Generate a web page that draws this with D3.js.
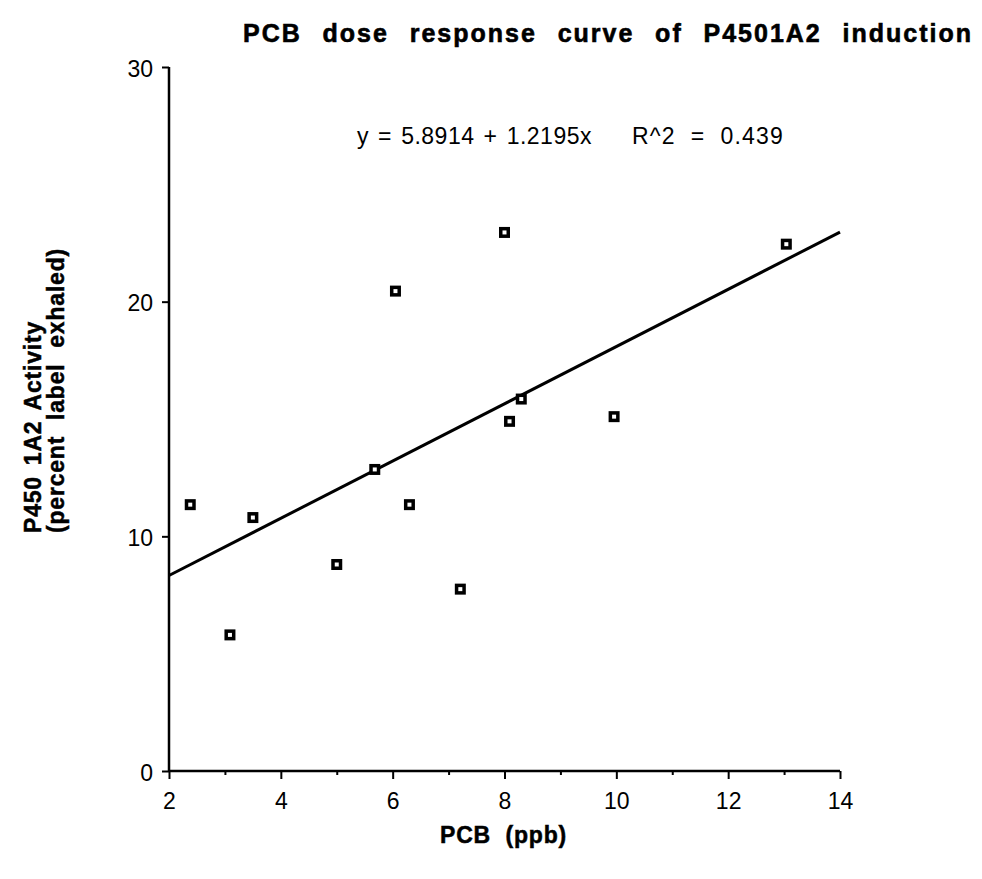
<!DOCTYPE html>
<html>
<head>
<meta charset="utf-8">
<script src="https://cdn.jsdelivr.net/npm/d3@7"></script>
<style>
  html, body { margin: 0; padding: 0; background: #fff; }
  svg { display: block; }
  text { font-family: "Liberation Sans", Arial, Helvetica, sans-serif; fill: #000; }
</style>
</head>
<body>
<svg id="chart" width="982" height="879"></svg>
<script>
// ---- data ----
const pcbValues = [2.38, 3.09, 3.5, 5.0, 5.68, 6.05, 6.3, 7.21, 8.0, 8.09, 8.3, 9.96, 13.04];
const activityValues = [11.35, 5.8, 10.8, 8.8, 12.85, 20.45, 11.35, 7.75, 22.95, 14.9, 15.85, 15.1, 22.45];
const xTicks = [2, 4, 6, 8, 10, 12, 14];
const xMinorTicks = [3, 5, 7, 9, 11, 13];
const yTicks = [0, 10, 20, 30];
const fitIntercept = [5.8914];
const fitSlope = [1.2195];
const titleText = "PCB dose response curve of P4501A2 induction";
const equationParts = ["y = 5.8914 + 1.2195x", "R^2 = 0.439"];
const yLabelLines = ["P450 1A2 Activity", "(percent label exhaled)"];
const xLabelText = "PCB (ppb)";

// ---- helpers ----
function fitWords(sel, target) {
  const node = sel.node();
  const n = (sel.text().match(/ /g) || []).length;
  const w = node.getComputedTextLength();
  if (n > 0) sel.attr("word-spacing", Math.max(0, (target - w) / n));
}

// ---- layout ----
const svg = d3.select("#chart");
const x = d3.scaleLinear().domain([2, 14]).range([169, 840]);
const y = d3.scaleLinear().domain([0, 30]).range([771, 67]);

// axes
const xAxis = d3.axisBottom(x).tickValues(xTicks).tickSize(8).tickPadding(13).tickFormat(d3.format("d"));
const gx = svg.append("g").attr("transform", `translate(0,${y(0)})`).call(xAxis);
gx.select(".domain").attr("d", `M${x(2)},0H${x(14)}`).attr("stroke-width", 2.5);
gx.selectAll(".tick line").attr("stroke-width", 2);
gx.selectAll(".tick text").attr("font-size", 23).attr("dy", "0.72em");

const gxMinor = svg.append("g").attr("transform", `translate(0,${y(0)})`)
  .call(d3.axisBottom(x).tickValues(xMinorTicks).tickSize(4).tickFormat(""));
gxMinor.select(".domain").remove();
gxMinor.selectAll(".tick line").attr("stroke-width", 2);

const yAxis = d3.axisLeft(y).tickValues(yTicks).tickSize(7).tickPadding(9).tickFormat(d3.format("d"));
const gy = svg.append("g").attr("transform", `translate(${x(2)},0)`).call(yAxis);
gy.select(".domain").attr("d", `M0,${y(30)}V${y(0)}`).attr("stroke-width", 2.5);
gy.selectAll(".tick line").attr("stroke-width", 2);
gy.selectAll(".tick text").attr("font-size", 23).attr("dy", "0.4em");

// regression line
const fitX = [2, 14];
const line = d3.line().x(d => x(d)).y(d => y(fitIntercept[0] + fitSlope[0] * d));
svg.append("path").datum(fitX).attr("d", line)
  .attr("fill", "none").attr("stroke", "#000").attr("stroke-width", 3);

// points
const pts = pcbValues.map((v, i) => ({ px: v, py: activityValues[i] }));
svg.append("g").selectAll("rect").data(pts).join("rect")
  .attr("x", d => x(d.px) - 3.75).attr("y", d => y(d.py) - 3.75)
  .attr("width", 7.5).attr("height", 7.5)
  .attr("fill", "#fff").attr("stroke", "#000").attr("stroke-width", 3.5);

// title
const title = svg.append("text").attr("x", 243).attr("y", 42)
  .attr("font-size", 25).attr("font-weight", "bold").attr("letter-spacing", 2)
  .attr("stroke", "#000").attr("stroke-width", 0.6)
  .text(titleText);
fitWords(title, 730);

// equation
const eq1 = svg.append("text").attr("x", 357).attr("y", 144)
  .attr("font-size", 23).attr("letter-spacing", 0.5)
  .text(equationParts[0]);
fitWords(eq1, 235);
const eq2 = svg.append("text").attr("x", 632).attr("y", 144)
  .attr("font-size", 23).attr("letter-spacing", 1.2)
  .text(equationParts[1]);
fitWords(eq2, 152);

// x label
const xl = svg.append("text").attr("x", 440).attr("y", 843)
  .attr("font-size", 23).attr("font-weight", "bold").attr("letter-spacing", 0.8)
  .attr("stroke", "#000").attr("stroke-width", 0.5)
  .text(xLabelText);
fitWords(xl, 127);

// y label (two lines, rotated)
const yl1 = svg.append("text").attr("transform", "translate(41,533) rotate(-90)")
  .attr("font-size", 23).attr("font-weight", "bold").attr("letter-spacing", 0.8)
  .attr("stroke", "#000").attr("stroke-width", 0.5)
  .text(yLabelLines[0]);
fitWords(yl1, 212);
const yl2 = svg.append("text").attr("transform", "translate(64,533) rotate(-90)")
  .attr("font-size", 23).attr("font-weight", "bold").attr("letter-spacing", 0.8)
  .attr("stroke", "#000").attr("stroke-width", 0.5)
  .text(yLabelLines[1]);
fitWords(yl2, 285);
</script>
</body>
</html>
